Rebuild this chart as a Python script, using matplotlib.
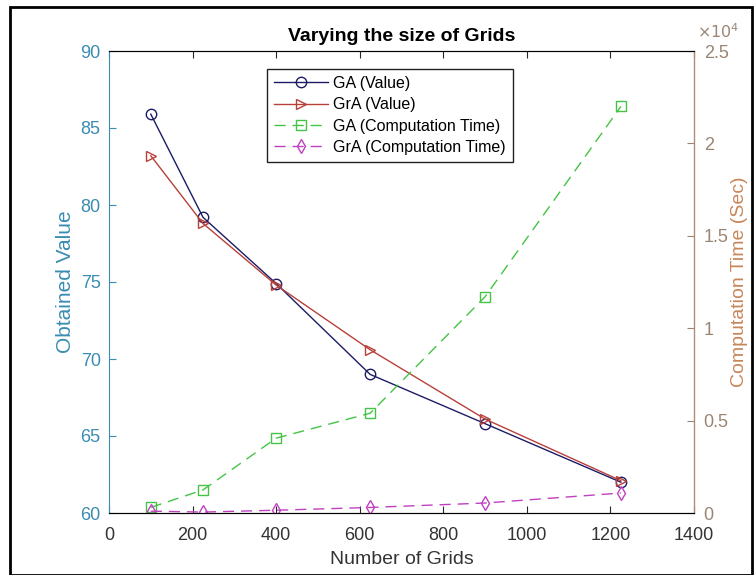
import matplotlib
matplotlib.use("Agg")
import matplotlib.pyplot as plt
from matplotlib.patches import Rectangle

plt.rcParams['font.family'] = ['Liberation Sans', 'DejaVu Sans']

grids = [100, 225, 400, 625, 900, 1225]
ga_value = [85.9, 79.2, 74.9, 69.0, 65.8, 62.0]
gra_value = [83.2, 78.8, 74.8, 70.6, 66.1, 62.1]
ga_time = [300, 1250, 4050, 5400, 11700, 22000]
gra_time = [100, 50, 150, 300, 540, 1080]

xticks = [0, 200, 400, 600, 800, 1000, 1200, 1400]
left_ticks = [60, 65, 70, 75, 80, 85, 90]
right_ticks = [0, 5000, 10000, 15000, 20000, 25000]
right_ticklabels = ['0', '0.5', '1', '1.5', '2', '2.5']

c_left = '#3a8cb2'
c_right_lab = '#c8865a'
c_right_tick = '#9a8575'
c_spine_r = '#b88a6a'

fig = plt.figure(figsize=(7.55, 5.75), dpi=100)
fig.patches.append(Rectangle((10/755, 0), 742/755, 568/575, transform=fig.transFigure,
                             fill=False, edgecolor='black', linewidth=2.0))

ax = fig.add_axes([109/755, 62/575, 585/755, 462/575])
ax2 = ax.twinx()

l1, = ax.plot(grids, ga_value, color='#1c1c66', marker='o', markersize=7.5,
              markerfacecolor='none', linewidth=1.0, label='GA (Value)')
l2, = ax.plot(grids, gra_value, color='#b8403a', marker='>', markersize=7.5,
              markerfacecolor='none', linewidth=1.0, label='GrA (Value)')
l3, = ax2.plot(grids, ga_time, color='#44c444', marker='s', markersize=7,
               markerfacecolor='none', linewidth=1.0, linestyle=(0, (8, 5)),
               label='GA (Computation Time)')
l4, = ax2.plot(grids, gra_time, color='#c040c0', marker='d', markersize=7.5,
               markerfacecolor='none', linewidth=1.0, linestyle=(0, (8, 5)),
               label='GrA (Computation Time)')

ax.set_xlim(0, 1400)
ax.set_ylim(60, 90)
ax2.set_ylim(0, 25000)
ax.set_xticks(xticks)
ax.set_yticks(left_ticks)
ax2.set_yticks(right_ticks)
ax2.set_yticklabels(right_ticklabels)

ax.tick_params(axis='x', direction='in', top=True, labelsize=13, colors='#262626',
               length=5, pad=10)
ax.tick_params(axis='y', direction='in', labelsize=13, colors=c_left, length=5, pad=6)
ax2.tick_params(axis='y', direction='in', labelsize=13, colors=c_right_tick, length=5, pad=7)
for t in ax.get_xticklabels():
    t.set_color('#333333')

ax.spines['left'].set_color(c_left)
ax.spines['bottom'].set_color('#262626')
ax.spines['top'].set_color('#262626')
ax2.spines['right'].set_color(c_spine_r)
ax2.spines['left'].set_visible(False)
for s in ax.spines.values():
    s.set_linewidth(0.8)
for s in ax2.spines.values():
    s.set_linewidth(0.8)

ax.set_xlabel('Number of Grids', fontsize=14, color='#333333', labelpad=5)
ax.set_ylabel('Obtained Value', fontsize=15, color=c_left, labelpad=4)
ax2.set_ylabel('Computation Time (Sec)', fontsize=14, color=c_right_lab, labelpad=2)
ax.set_title('Varying the size of Grids', fontsize=14, fontweight='bold', pad=7)

fig.text(697/755, 1 - 41/575, r'$\times10^4$', fontsize=11.5, color=c_right_tick,
         ha='left', va='bottom')

leg = ax.legend(handles=[l1, l2, l3, l4], loc='upper left',
                bbox_to_anchor=(0.27, 0.962), fontsize=11.5, frameon=True,
                fancybox=False, edgecolor='#222222', framealpha=1,
                handlelength=3.4, borderpad=0.45, labelspacing=0.4,
                handletextpad=0.3, borderaxespad=0)
leg.get_frame().set_linewidth(1.0)

fig.savefig('out.png', dpi=100)
